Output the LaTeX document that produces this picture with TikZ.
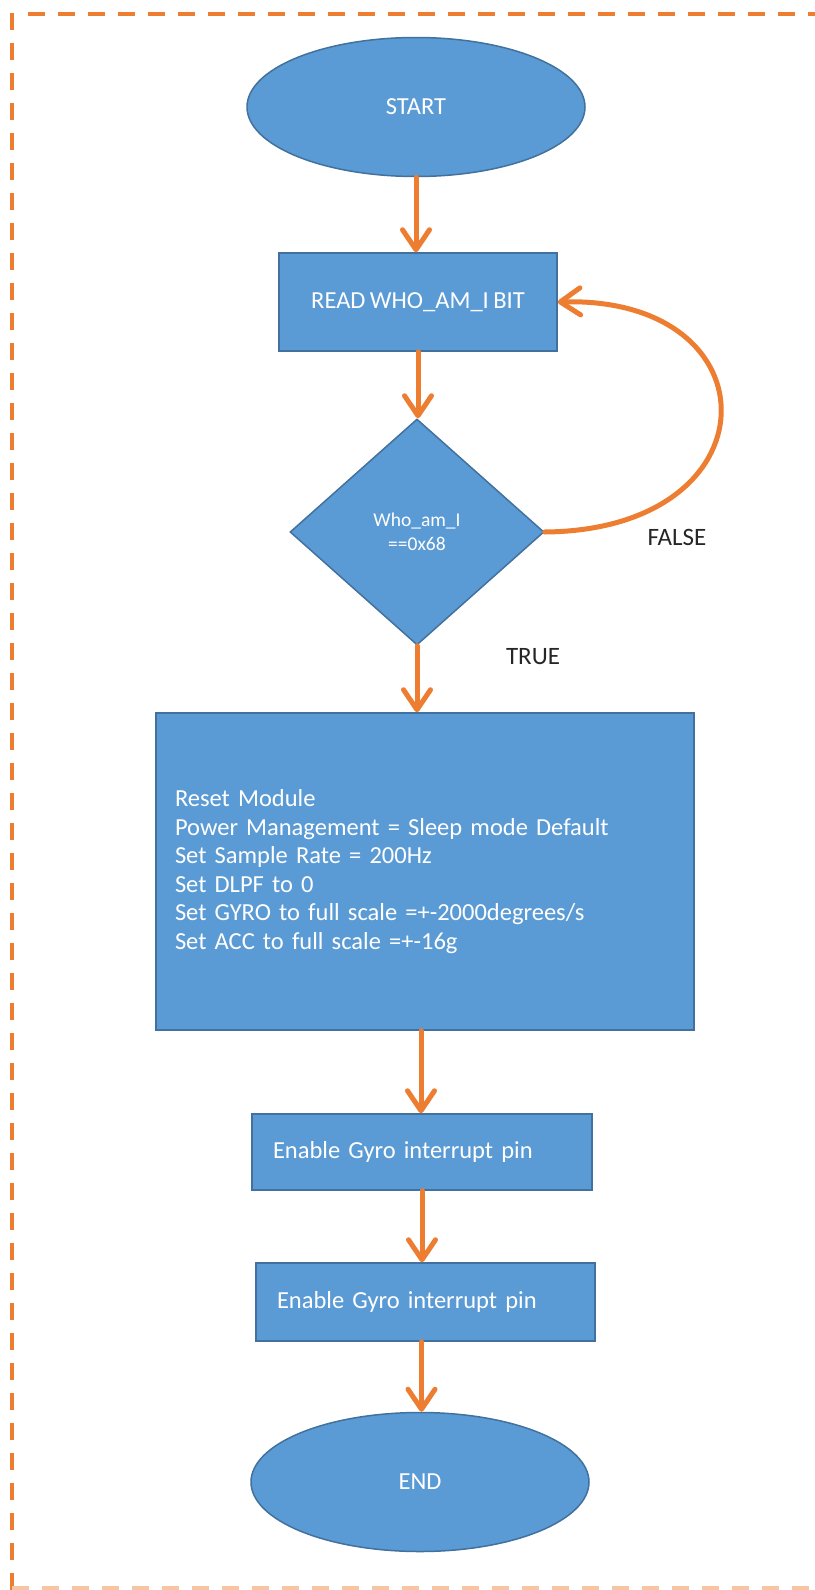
\documentclass[tikz,border=0pt]{standalone}
\usepackage{fontspec}
\setmainfont[WordSpace=0.8]{Carlito}
\usetikzlibrary{shapes.geometric,arrows.meta}
\definecolor{boxblue}{HTML}{5B9BD5}
\definecolor{boxedge}{HTML}{41719C}
\definecolor{flowor}{HTML}{ED7D31}
\definecolor{labelgray}{HTML}{262626}

\begin{document}
\begin{tikzpicture}[x=1pt,y=-1pt,
  shapebase/.style={fill=boxblue, draw=boxedge, line width=1.5pt, text=white,
    font=\fontsize{24.5}{28}\selectfont},
  terminal/.style={shapebase, ellipse, minimum width=338pt, minimum height=139pt, inner sep=0pt},
  process/.style={shapebase, rectangle, inner sep=0pt},
  decision/.style={shapebase, diamond, minimum width=254pt, minimum height=226pt,
    inner sep=0pt, font=\fontsize{19.5}{24}\selectfont, align=center},
  flow/.style={draw=flowor, line width=5pt, line cap=round,
    -{Straight Barb[length=20pt,width=27pt,round]}},
  branch/.style={text=labelgray, font=\fontsize{25}{28}\selectfont},
  frame/.style={draw=flowor, line width=3.5pt, dash pattern=on 17pt off 13pt}
]
\useasboundingbox (0,0) rectangle (814,1590);

% dashed enclosure
\draw[frame] (12,13) -- (12,1590);
\draw[frame] (28,14) -- (830,14);
\draw[frame, draw=flowor!45] (12,1588) -- (830,1588);

% flowchart nodes
\node[terminal] (start) at (416,107) {START};
\node[process, minimum width=278pt, minimum height=98pt] (read) at (418,302) {READ WHO\_AM\_I BIT};
\node[decision] (dia) at (417,532) {Who\_am\_I\\==0x68};
\node[process, text width=500pt, inner xsep=19pt, minimum height=317pt, align=left,
      font=\fontsize{24.5}{28.6}\selectfont] (setup) at (425,871.5)
  {Reset Module\\
   Power Management = Sleep mode Default\\
   Set Sample Rate = 200Hz\\
   Set DLPF to 0\\
   Set GYRO to full scale =+-2000degrees/s\\
   Set ACC to full scale =+-16g};
\node[process, text width=298pt, inner xsep=21pt, minimum height=76pt, align=left] (en1) at (422,1152)
  {Enable Gyro interrupt pin};
\node[process, text width=297pt, inner xsep=21pt, minimum height=78pt, align=left] (en2) at (425.5,1302)
  {Enable Gyro interrupt pin};
\node[terminal] (finish) at (420,1482) {END};

% branch labels
\node[branch] (lfalse) at (677,537) {FALSE};
\node[branch] (ltrue) at (533,657) {TRUE};

% connectors
\draw[flow] (start.south) -- (start.south |- read.north);
\draw[flow] (read.south) -- (read.south |- dia.north);
\draw[flow] (dia.south) -- (dia.south |- setup.north);
\draw[flow] ([xshift=-4pt]setup.south) -- ([xshift=-4pt]setup.south |- en1.north);
\draw[flow] (en1.south) -- (en1.south |- en2.north);
\draw[flow] ([xshift=-4pt]en2.south) -- ([xshift=-4pt]en2.south |- finish.north);
\draw[flow] (dia.east) .. controls (777,530) and (777,296) .. (read.east);
\end{tikzpicture}
\end{document}
